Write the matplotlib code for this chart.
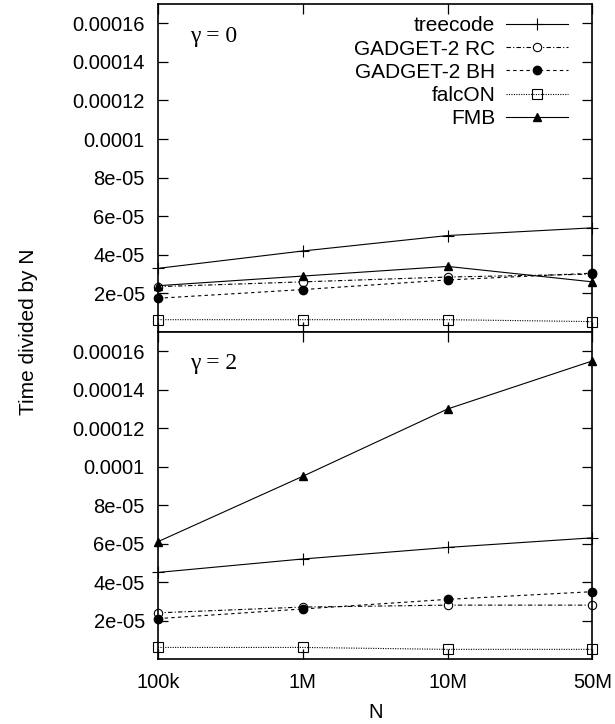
import matplotlib
matplotlib.use('Agg')
import matplotlib.pyplot as plt

# problem sizes (evenly spaced categories)
sizes = ['100k', '1M', '10M', '50M']

# gamma = 0
treecode_g0 = [3.3e-05, 4.2e-05, 5.0e-05, 5.4e-05]
rc_g0 = [2.35e-05, 2.6e-05, 2.85e-05, 3.0e-05]
bh_g0 = [1.75e-05, 2.2e-05, 2.7e-05, 3.05e-05]
falcon_g0 = [6.4e-06, 6.4e-06, 6.4e-06, 5.4e-06]
fmb_g0 = [2.4e-05, 2.9e-05, 3.4e-05, 2.6e-05]

# gamma = 2
treecode_g2 = [4.5e-05, 5.2e-05, 5.8e-05, 6.3e-05]
rc_g2 = [2.4e-05, 2.7e-05, 2.8e-05, 2.8e-05]
bh_g2 = [2.1e-05, 2.6e-05, 3.1e-05, 3.5e-05]
falcon_g2 = [6.0e-06, 6.0e-06, 5.0e-06, 5.0e-06]
fmb_g2 = [6.1e-05, 9.5e-05, 1.3e-04, 1.55e-04]

ytick_vals = [2e-05, 4e-05, 6e-05, 8e-05, 1e-04, 1.2e-04, 1.4e-04, 1.6e-04]
ytick_labels = ['2e-05', '4e-05', '6e-05', '8e-05', '0.0001', '0.00012', '0.00014', '0.00016']

plt.rcParams['font.family'] = ['Liberation Sans', 'DejaVu Sans']

fig = plt.figure(figsize=(6.15, 7.24), dpi=100)
ax1 = fig.add_axes([0.2569, 0.5414, 0.7065, 0.4531])
ax2 = fig.add_axes([0.2569, 0.0898, 0.7065, 0.4516])

x = list(range(len(sizes)))


def draw(ax, tree, rc, bh, falcon, fmb):
    lw = 0.8
    ax.plot(x, tree, color='black', lw=lw, marker='+', ms=9, mew=0.8,
            label='treecode', clip_on=False)
    ax.plot(x, rc, color='black', lw=lw, ls=(0, (4, 2, 1, 2)), marker='o', ms=6,
            mfc='white', mew=0.8, label='GADGET-2 RC', clip_on=False)
    ax.plot(x, bh, color='black', lw=lw, ls=(0, (3, 3)), marker='o', ms=6,
            label='GADGET-2 BH', clip_on=False)
    ax.plot(x, falcon, color='black', lw=lw, ls=(0, (1, 1.2)), marker='s', ms=6.5,
            mfc='none', mew=0.8, label='falcON', clip_on=False)
    ax.plot(x, fmb, color='black', lw=lw, marker='^', ms=6,
            label='FMB', clip_on=False)
    ax.set_xlim(0, 3)
    ax.set_ylim(0, 1.7e-04)
    ax.set_xticks(x)
    ax.set_yticks(ytick_vals)
    ax.set_yticklabels(ytick_labels)
    ax.tick_params(direction='in', length=7, width=0.9, top=True, right=True,
                   labelsize=14.5, pad=9.5)
    for s in ax.spines.values():
        s.set_linewidth(1.2)


draw(ax1, treecode_g0, rc_g0, bh_g0, falcon_g0, fmb_g0)
draw(ax2, treecode_g2, rc_g2, bh_g2, falcon_g2, fmb_g2)

ax1.tick_params(labelbottom=False)
ax2.set_xticklabels(sizes)
ax2.tick_params(axis='x', pad=10)

ax1.text(0.074, 0.90, '\u03b3 = 0', transform=ax1.transAxes, fontsize=17,
         family='Liberation Serif', va='center', ha='left')
ax2.text(0.074, 0.905, '\u03b3 = 2', transform=ax2.transAxes, fontsize=17,
         family='Liberation Serif', va='center', ha='left')

ax1.legend(loc='upper right', bbox_to_anchor=(0.944, 0.962), frameon=False,
           markerfirst=False, fontsize=15, handlelength=3.0, labelspacing=0.2,
           borderaxespad=0, borderpad=0, handletextpad=0.5, numpoints=1)

ax2.set_xlabel('N', fontsize=14.5, labelpad=8)
fig.text(0.047, 0.542, 'Time divided by N', rotation=90, fontsize=15,
         ha='center', va='center')

fig.savefig('out.png', dpi=100)
